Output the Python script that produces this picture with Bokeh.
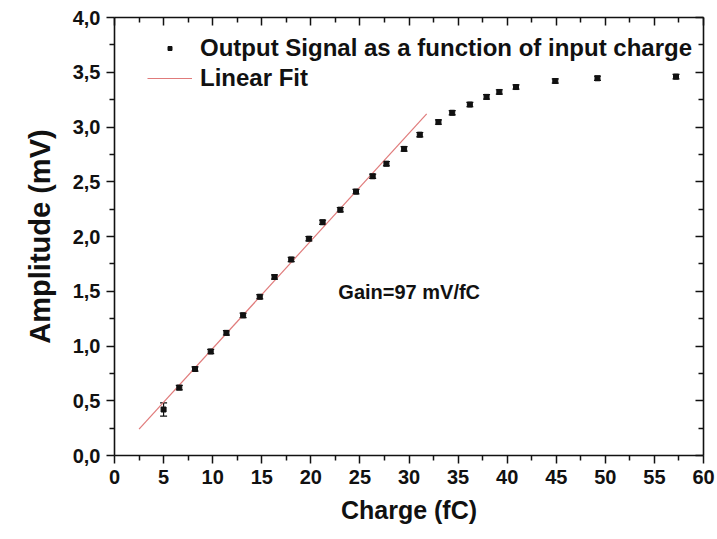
from bokeh.plotting import figure
from bokeh.models import (Range1d, LinearAxis, FixedTicker, Whisker, ColumnDataSource,
                          Legend, LegendItem, TeeHead, Label)
from bokeh.embed import file_html
from bokeh.resources import INLINE

# ---- data ----
charge = [5.0, 6.6, 8.2, 9.8, 11.4, 13.1, 14.8, 16.3, 18.0, 19.8, 21.2, 23.0, 24.6,
          26.3, 27.7, 29.5, 31.1, 33.0, 34.4, 36.2, 37.9, 39.2, 40.9, 44.9, 49.2, 57.2]
amplitude = [0.42, 0.62, 0.79, 0.95, 1.12, 1.28, 1.45, 1.63, 1.79, 1.98, 2.13, 2.245, 2.41,
             2.55, 2.665, 2.80, 2.93, 3.045, 3.13, 3.205, 3.275, 3.32, 3.365, 3.42, 3.445, 3.46]
error = [0.06, 0.02, 0.02, 0.02, 0.02, 0.02, 0.02, 0.02, 0.02, 0.02, 0.02, 0.02, 0.02,
         0.02, 0.02, 0.02, 0.02, 0.02, 0.02, 0.02, 0.02, 0.02, 0.02, 0.02, 0.02, 0.02]

fit_x = [2.5, 31.8]
fit_y = [0.24, 3.12]

x_ticks = [0, 5, 10, 15, 20, 25, 30, 35, 40, 45, 50, 55, 60]
x_tick_labels = ["0", "5", "10", "15", "20", "25", "30", "35", "40", "45", "50", "55", "60"]
y_ticks = [0.0, 0.5, 1.0, 1.5, 2.0, 2.5, 3.0, 3.5, 4.0]
y_tick_labels = ["0,0", "0,5", "1,0", "1,5", "2,0", "2,5", "3,0", "3,5", "4,0"]

series_label = "Output Signal as a function of input charge"
fit_label = "Linear Fit"
gain_text = "Gain=97 mV/fC"

FONT = "Liberation Sans"

src = ColumnDataSource(dict(
    x=charge, y=amplitude,
    upper=[a + e for a, e in zip(amplitude, error)],
    lower=[a - e for a, e in zip(amplitude, error)],
))

p = figure(width=717, height=539, x_range=Range1d(0, 60), y_range=Range1d(0, 4),
           output_backend="svg", toolbar_location=None,
           min_border_left=114, min_border_right=14, min_border_top=17, min_border_bottom=84)
p.xgrid.visible = False
p.ygrid.visible = False
p.outline_line_color = None
p.background_fill_color = "white"
p.border_fill_color = "white"

x_minor = [(a + b) / 2 for a, b in zip(x_ticks[:-1], x_ticks[1:])]
y_minor = [(a + b) / 2 for a, b in zip(y_ticks[:-1], y_ticks[1:])]


def style_axis(ax, ticks, minor, labels, outward, show_labels):
    ax.ticker = FixedTicker(ticks=ticks, minor_ticks=minor)
    ax.axis_line_width = 1.6
    ax.axis_line_color = "#111111"
    ax.major_tick_line_color = "#111111"
    ax.minor_tick_line_color = "#111111"
    ax.major_tick_line_width = 1.5
    ax.minor_tick_line_width = 1.5
    if outward:
        ax.major_tick_out = 8
        ax.major_tick_in = 0
        ax.minor_tick_out = 5
        ax.minor_tick_in = 0
    else:
        ax.major_tick_out = 0
        ax.major_tick_in = 8
        ax.minor_tick_out = 0
        ax.minor_tick_in = 5
    if show_labels:
        ax.major_label_overrides = {t: l for t, l in zip(ticks, labels)}
        ax.major_label_text_font = FONT
        ax.major_label_text_font_style = "bold"
        ax.major_label_text_font_size = "20px"
        ax.major_label_text_color = "#111111"
    else:
        ax.major_label_overrides = {t: "" for t in ticks}
        ax.major_label_text_font_size = "1px"
        ax.major_label_standoff = 0


bottom = p.xaxis[0]
left = p.yaxis[0]
style_axis(bottom, x_ticks, x_minor, x_tick_labels, True, True)
style_axis(left, y_ticks, y_minor, y_tick_labels, True, True)
bottom.major_label_standoff = 6
left.major_label_standoff = 6

top = LinearAxis()
right = LinearAxis()
style_axis(top, x_ticks, x_minor, x_tick_labels, False, False)
style_axis(right, y_ticks, y_minor, y_tick_labels, False, False)
p.add_layout(top, "above")
p.add_layout(right, "right")

bottom.axis_label = "Charge (fC)"
left.axis_label = "Amplitude (mV)"
for ax, size, so in ((bottom, "25px", 9), (left, "29px", 14)):
    ax.axis_label_text_font = FONT
    ax.axis_label_text_font_style = "bold"
    ax.axis_label_text_font_size = size
    ax.axis_label_text_color = "#111111"
    ax.axis_label_standoff = so

ln = p.line(fit_x, fit_y, line_color="#e07b7b", line_width=1.2)

wh = Whisker(source=src, base="x", upper="upper", lower="lower",
             line_color="#111111", line_width=1.2,
             upper_head=TeeHead(size=7, line_color="#111111", line_width=1.2),
             lower_head=TeeHead(size=7, line_color="#111111", line_width=1.2))
p.add_layout(wh)

sc = p.scatter("x", "y", source=src, marker="square", size=5,
               fill_color="#111111", line_color="#111111")

legend = Legend(items=[LegendItem(label=series_label, renderers=[sc]),
                       LegendItem(label=fit_label, renderers=[ln])],
                location=(33, 362), border_line_color=None, background_fill_alpha=0,
                padding=0, margin=0, spacing=0, glyph_width=45, glyph_height=10,
                label_height=30, label_standoff=8,
                label_text_font=FONT, label_text_font_style="bold",
                label_text_font_size="24px", label_text_color="#111111")
p.add_layout(legend)

p.add_layout(Label(x=22.8, y=1.49, text=gain_text, text_font=FONT,
                   text_font_style="bold", text_font_size="20px",
                   text_baseline="middle", text_color="#111111"))

open("out.html", "w").write(file_html(p, INLINE))
